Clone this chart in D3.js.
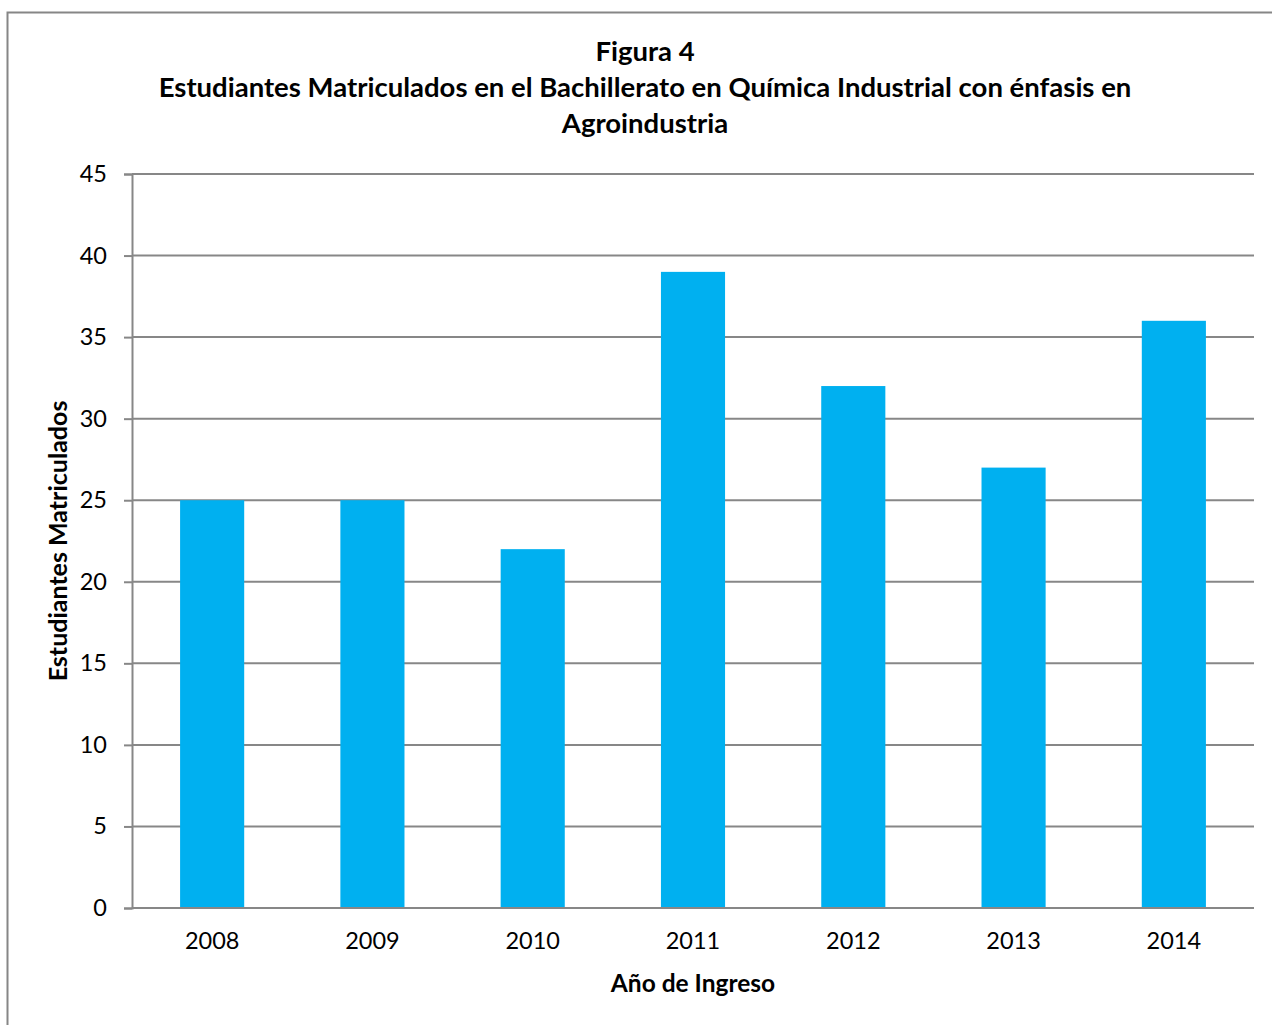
<!DOCTYPE html>
<html>
<head>
<meta charset="utf-8">
<script src="https://cdn.jsdelivr.net/npm/d3@7"></script>
<style>
  html, body { margin: 0; padding: 0; background: #fff; }
  svg { display: block; font-family: Lato, "Open Sans", sans-serif; }
</style>
</head>
<body>
<script>
// Enrolment per year of entry
const years = ["2008", "2009", "2010", "2011", "2012", "2013", "2014"];
const students = [25, 25, 22, 39, 32, 27, 36];
const yTicks = [0, 5, 10, 15, 20, 25, 30, 35, 40, 45];
const titleLines = [
  "Figura 4",
  "Estudiantes Matriculados en el Bachillerato en Química Industrial con énfasis en",
  "Agroindustria"
];

const W = 1272, H = 1025;
const plot = { left: 132, right: 1254, top: 174, bottom: 908 };
const axisColor = "#878787";

const svg = d3.select("body").append("svg")
  .attr("width", W).attr("height", H);

// outer chart frame (extends past the right and bottom edges)
svg.append("rect")
  .attr("x", 7.5).attr("y", 12.5)
  .attr("width", 1300).attr("height", 1100)
  .attr("fill", "#fff")
  .attr("stroke", "#868686").attr("stroke-width", 2);

const x = d3.scaleBand().domain(years)
  .range([plot.left, plot.right]).paddingInner(0.6).paddingOuter(0.3);
const y = d3.scaleLinear().domain([0, 45]).range([plot.bottom, plot.top]);

// horizontal gridlines
svg.append("g").selectAll("line").data(yTicks.filter(t => t > 0)).join("line")
  .attr("x1", plot.left).attr("x2", plot.right)
  .attr("y1", d => y(d)).attr("y2", d => y(d))
  .attr("stroke", axisColor).attr("stroke-width", 2);

// bars
svg.append("g").selectAll("rect").data(years).join("rect")
  .attr("x", d => x(d))
  .attr("width", x.bandwidth())
  .attr("y", (d, i) => y(students[i]))
  .attr("height", (d, i) => y(0) - y(students[i]))
  .attr("fill", "#00B0F0");

// y axis
const yAxis = svg.append("g")
  .attr("transform", `translate(${plot.left},0)`)
  .call(d3.axisLeft(y).tickValues(yTicks).tickSize(8).tickPadding(17));
yAxis.select(".domain").attr("stroke", axisColor).attr("stroke-width", 2);
yAxis.selectAll(".tick line").attr("stroke", axisColor).attr("stroke-width", 2);
yAxis.selectAll(".tick text")
  .attr("font-size", 23.5).attr("fill", "#000")
  .attr("font-family", "Lato, 'Open Sans', sans-serif");

// x axis
const xAxis = svg.append("g")
  .attr("transform", `translate(0,${plot.bottom})`)
  .call(d3.axisBottom(x).tickSize(0).tickPadding(24));
xAxis.select(".domain")
  .attr("d", `M${plot.left},0H${plot.right}`)
  .attr("stroke", axisColor).attr("stroke-width", 2);
xAxis.selectAll(".tick text")
  .attr("font-size", 23.5).attr("fill", "#000")
  .attr("font-family", "Lato, 'Open Sans', sans-serif");

// title
svg.append("g").selectAll("text").data(titleLines).join("text")
  .attr("x", 645)
  .attr("y", (d, i) => 61 + i * 36)
  .attr("text-anchor", "middle")
  .attr("font-size", 27.5).attr("font-weight", "bold")
  .text(d => d);

// axis titles
svg.append("text")
  .attr("x", 693).attr("y", 992)
  .attr("text-anchor", "middle")
  .attr("font-size", 24.5).attr("font-weight", "bold")
  .text("Año de Ingreso");

svg.append("text")
  .attr("transform", "translate(67,541) rotate(-90)")
  .attr("text-anchor", "middle")
  .attr("font-size", 25).attr("font-weight", "bold")
  .text("Estudiantes Matriculados");
</script>
</body>
</html>
